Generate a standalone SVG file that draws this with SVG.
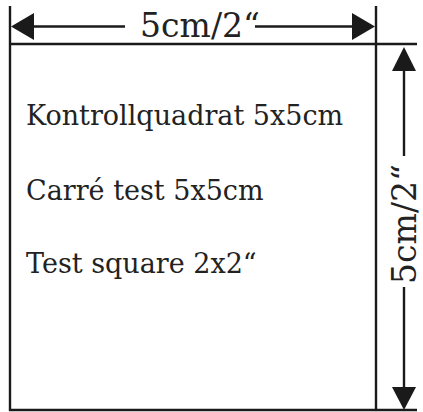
<svg xmlns="http://www.w3.org/2000/svg" width="423" height="412" viewBox="0 0 423 412">
<style>
.ln{stroke:#1a1a1a;stroke-width:2.4;fill:none}
.ah{fill:#1a1a1a}
.t{font-family:"DejaVu Serif","Liberation Serif",serif;fill:#222}
.body{font-size:27px}
.dim{font-size:33px;text-anchor:middle}
</style>
<rect width="423" height="412" fill="#fff"/>
<g id="square">
<line class="ln" x1="10" y1="6" x2="10" y2="411"/>
<line class="ln" x1="376" y1="6" x2="376" y2="411"/>
<line class="ln" x1="9" y1="44" x2="417" y2="44"/>
<line class="ln" x1="9" y1="410" x2="417" y2="410"/>
</g>
<g id="labels">
<text class="t body" x="26" y="125">Kontrollquadrat 5x5cm</text>
<text class="t body" x="26" y="200">Carré test 5x5cm</text>
<text class="t body" x="26" y="273">Test square 2x2“</text>
</g>
<g id="connectors">
<line class="ln" x1="30" y1="26.5" x2="125" y2="26.5"/>
<line class="ln" x1="255" y1="26.5" x2="355" y2="26.5"/>
<polygon class="ah" points="11,26.5 34,13 34,40"/>
<polygon class="ah" points="375,26.5 352,13 352,40"/>
<line class="ln" x1="404" y1="68" x2="404" y2="156"/>
<line class="ln" x1="404" y1="287" x2="404" y2="390"/>
<polygon class="ah" points="404,47 392,71 416,71"/>
<polygon class="ah" points="404,410 392,387 416,387"/>
</g>
<g id="dimensions">
<text class="t dim" x="200" y="37">5cm/2“</text>
<text class="t dim" transform="translate(416,224) rotate(-90)" x="0" y="0">5cm/2“</text>
</g>
</svg>
